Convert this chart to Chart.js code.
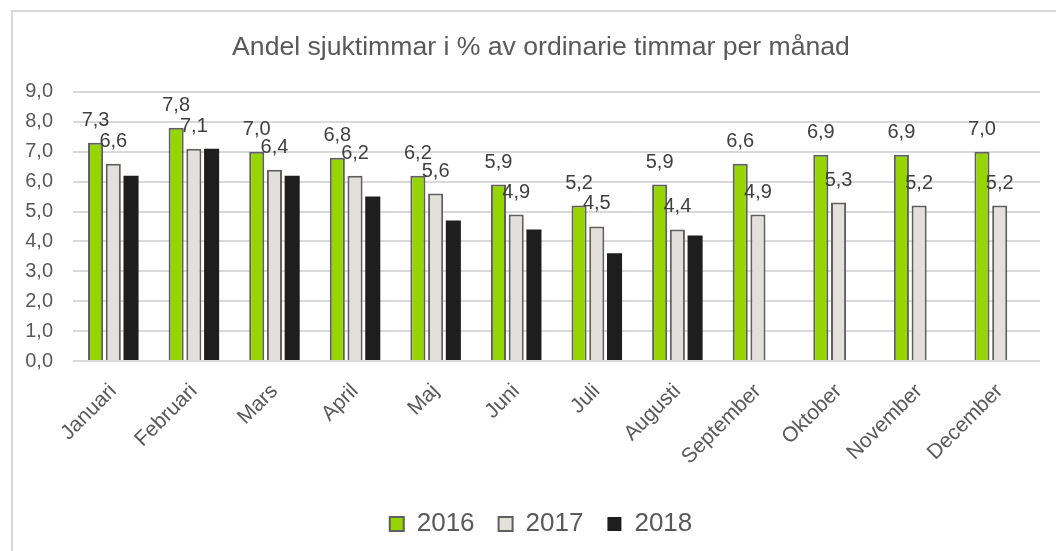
<!DOCTYPE html>
<html>
<head>
<meta charset="utf-8">
<script src="https://cdn.jsdelivr.net/npm/chart.js@4"></script>
<style>
  html, body { margin: 0; padding: 0; background: #fff; overflow: hidden; }
  #frame { position: absolute; left: 11px; top: 10px; width: 1100px; height: 600px; border-left: 2px solid #d9d9d9; border-top: 2px solid #d9d9d9; }
  canvas { position: absolute; left: 0; top: 0; display: block; }
</style>
</head>
<body>
<div id="frame"></div>
<canvas id="sjuk" width="1082" height="551"></canvas>
<script>
// Månader och värden
const months = ['Januari', 'Februari', 'Mars', 'April', 'Maj', 'Juni', 'Juli', 'Augusti', 'September', 'Oktober', 'November', 'December'];
const values2016 = [7.3, 7.8, 7.0, 6.8, 6.2, 5.9, 5.2, 5.9, 6.6, 6.9, 6.9, 7.0];
const values2017 = [6.6, 7.1, 6.4, 6.2, 5.6, 4.9, 4.5, 4.4, 4.9, 5.3, 5.2, 5.2];
const values2018 = [6.2, 7.1, 6.2, 5.5, 4.7, 4.4, 3.6, 4.2, null, null, null, null];

const FONT = '"Liberation Sans", Arial, sans-serif';

// Etiketter ovanför staplarna för 2016 och 2017
const labelPlugin = {
    id: 'barLabels',
    afterDatasetsDraw(chart) {
        const ctx = chart.ctx;
        ctx.save();
        ctx.font = '20px ' + FONT;
        ctx.fillStyle = '#404040';
        ctx.textAlign = 'center';
        ctx.textBaseline = 'alphabetic';
        [0, 1].forEach(function (i) {
            const meta = chart.getDatasetMeta(i);
            meta.data.forEach(function (bar, j) {
                const v = chart.data.datasets[i].data[j];
                if (v == null) return;
                ctx.fillText(v.toFixed(1).replace('.', ','), bar.x, bar.y - 17);
            });
        });
        ctx.restore();
    }
};

const ctx = document.getElementById('sjuk').getContext('2d');
const chart = new Chart(ctx, {
    type: 'bar',
    data: {
        labels: months,
        datasets: [{
            label: '2016',
            data: values2016,
            backgroundColor: '#97d500',
            borderColor: '#5f5f5f',
            borderWidth: 2,
            borderSkipped: 'bottom'
        }, {
            label: '2017',
            data: values2017,
            backgroundColor: '#e3e0db',
            borderColor: '#5f5f5f',
            borderWidth: 2,
            borderSkipped: 'bottom'
        }, {
            label: '2018',
            data: values2018,
            backgroundColor: '#1e1e1e',
            borderColor: '#1e1e1e',
            borderWidth: 0
        }]
    },
    options: {
        responsive: false,
        animation: false,
        layout: { padding: { left: 0, right: 0, top: 0, bottom: 4 } },
        datasets: {
            bar: { categoryPercentage: 0.66, barPercentage: 0.85 }
        },
        plugins: {
            title: {
                display: true,
                text: 'Andel sjuktimmar i % av ordinarie timmar per månad',
                color: '#595959',
                font: { family: FONT, size: 26.6, weight: 'normal' },
                padding: { top: 32, bottom: 28 }
            },
            legend: {
                position: 'bottom',
                labels: {
                    color: '#595959',
                    font: { family: FONT, size: 26 },
                    boxWidth: 14,
                    boxHeight: 14,
                    padding: 24
                }
            },
            tooltip: { enabled: false }
        },
        scales: {
            x: {
                grid: { display: false },
                border: { display: false },
                afterFit: function (scale) { scale.height = 126; },
                ticks: {
                    color: '#595959',
                    font: { family: FONT, size: 21 },
                    minRotation: 45,
                    maxRotation: 45,
                    padding: 10
                }
            },
            y: {
                min: 0,
                max: 9,
                border: { display: false },
                afterFit: function (scale) { scale.width = 73; },
                grid: { color: '#d9d9d9', lineWidth: 2, drawTicks: false },
                ticks: {
                    stepSize: 1,
                    color: '#595959',
                    font: { family: FONT, size: 20 },
                    padding: 20,
                    callback: function (v) { return v.toFixed(1).replace('.', ','); }
                }
            },
            // tom axel till höger, håller diagramytan på plats
            yRight: {
                position: 'right',
                min: 0,
                max: 9,
                grid: { display: false },
                border: { display: false },
                ticks: { display: false },
                afterFit: function (scale) { scale.width = 42; }
            }
        }
    },
    plugins: [labelPlugin]
});
</script>
</body>
</html>
